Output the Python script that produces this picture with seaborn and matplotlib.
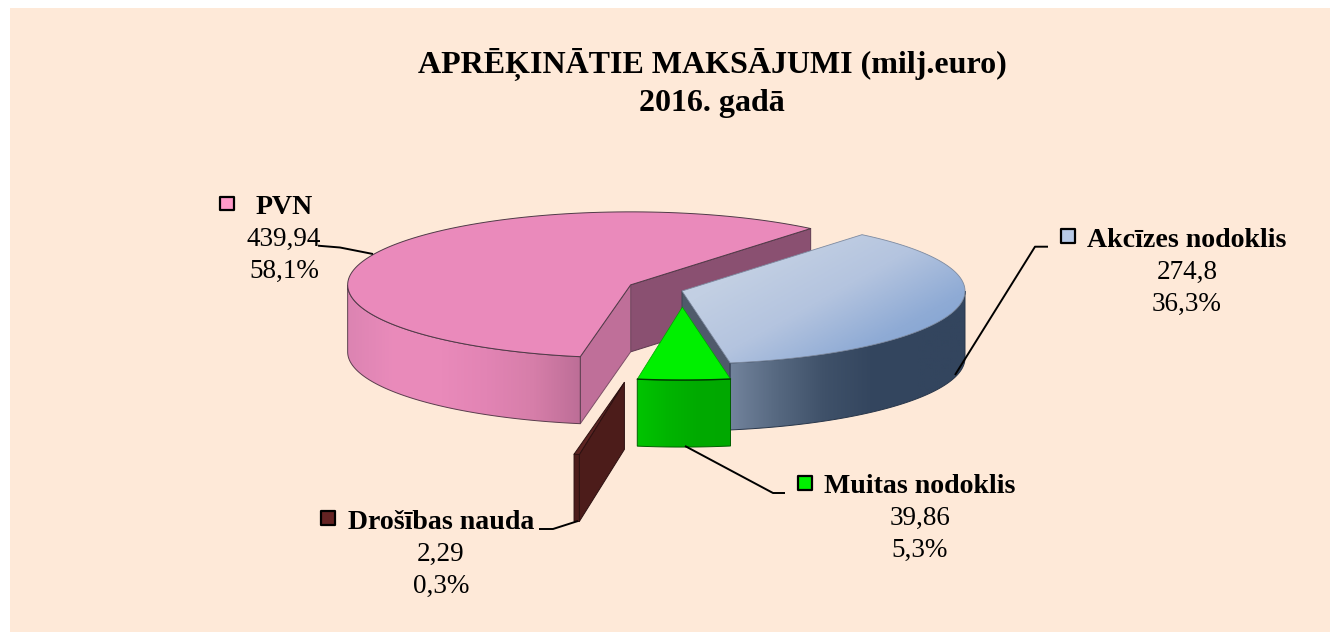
import numpy as np
import matplotlib
matplotlib.use('Agg')
import matplotlib.pyplot as plt
from matplotlib.patches import Polygon
import seaborn as sns

# data, clockwise from the back of the pie
names = ['Akcīzes nodoklis', 'Muitas nodoklis', 'Drošības nauda', 'PVN']
values = [274.8, 39.86, 2.29, 439.94]
value_labels = ['274,8', '39,86', '2,29', '439,94']
pct_labels = ['36,3%', '5,3%', '0,3%', '58,1%']
explode = [0.0, 0.22, 1.27, 0.2]

title_lines = ['APRĒĶINĀTIE MAKSĀJUMI (milj.euro)', '2016. gadā']

# pie layout, axes are in image pixels
cx, cy = 682, 291
rx, ry = 283, 73
depth = 67
start_angle = 50.5

sns.set_theme(style='white')
plt.rcParams['font.family'] = ['Liberation Serif', 'DejaVu Serif']

bg = '#fee9d8'
fig = plt.figure(figsize=(13.3, 6.33), dpi=100, facecolor='white')
ax = fig.add_axes([10 / 1330, 1 / 633, 1320 / 1330, 624 / 633])
ax.set_facecolor(bg)

z = [1]


def zo():
    z[0] += 1
    return z[0]


def grad(colors):
    return sns.blend_palette(colors, n_colors=256, as_cmap=True)


def fill_grad(poly, cmap, diag=False):
    # gradient image clipped to a polygon
    poly = np.array(poly)
    x0, x1 = poly[:, 0].min(), poly[:, 0].max()
    y0, y1 = poly[:, 1].min(), poly[:, 1].max()
    gx, gy = np.meshgrid(np.linspace(0, 1, 200), np.linspace(0, 1, 100))
    g = (0.55 * gx + 0.45 * gy) if diag else gx
    im = ax.imshow(g, extent=(x0, x1, y1, y0), cmap=cmap, aspect='auto', vmin=0, vmax=1,
                   interpolation='bilinear', zorder=zo())
    im.set_clip_path(Polygon(poly, closed=True, transform=ax.transData))


def rim(c, a0, a1):
    t = np.radians(np.linspace(a0, a1, 120))
    return np.column_stack([c[0] + rx * np.cos(t), c[1] - ry * np.sin(t)])


def draw(poly, color, edge, lw=0.7):
    ax.add_patch(Polygon(poly, closed=True, facecolor=color, edgecolor=edge, lw=lw,
                         joinstyle='round', zorder=zo()))


def outline(poly, edge, lw=0.7):
    ax.add_patch(Polygon(poly, closed=True, fill=False, edgecolor=edge, lw=lw, zorder=zo()))


def side_wall(c, a):
    p = rim(c, a, a)[0]
    return [c, p, (p[0], p[1] + depth), (c[0], c[1] + depth)]


def outer_wall(c, a0, a1):
    top = rim(c, a0, a1)
    return np.vstack([top, (top + [0, depth])[::-1]])


# angles and centres from the values
sweep = np.array(values) / sum(values) * 360
ends = start_angle - np.cumsum(sweep)
starts = ends + sweep
mids = (starts + ends) / 2
centres = []
for m, e in zip(mids, explode):
    centres.append((cx + rx * e * np.cos(np.radians(m)), cy - ry * e * np.sin(np.radians(m))))
centres[2] = (centres[2][0] + 3, centres[2][1])

blue_c, green_c, brown_c, pink_c = centres

# PVN
draw(side_wall(pink_c, ends[3]), '#8a5071', '#5e3a50')
draw(side_wall(pink_c, starts[3]), '#bf6f99', '#7d4f68')
wall = outer_wall(pink_c, starts[3], -180)
fill_grad(wall, grad(['#dc84b2', '#ea8bbb', '#e98aba', '#e284b4', '#d67ea9', '#bd6e97']))
outline(wall, '#5a3c4d')
draw(np.vstack([[pink_c], rim(pink_c, starts[3], ends[3])]), '#ea8abb', '#4f3a47')

# akcizes nodoklis
draw(side_wall(blue_c, ends[0]), '#4f5a6b', '#3d4654')
wall = outer_wall(blue_c, ends[0], 0)
fill_grad(wall, grad(['#72839c', '#566880', '#3f5169', '#34465f', '#33455e', '#33455e']))
outline(wall, '#28364a')
top = np.vstack([[blue_c], rim(blue_c, starts[0], ends[0])])
fill_grad(top, grad(['#c9d5e7', '#c2cfe3', '#b4c4df', '#8fabd5', '#7a9fd0']), diag=True)
outline(top, '#7d8aa0', lw=0.6)

# muitas nodoklis
wall = outer_wall(green_c, starts[1], ends[1])
fill_grad(wall, grad(['#00c400', '#00b400', '#00aa00', '#00a800']))
outline(wall, '#006000')
draw(np.vstack([[green_c], rim(green_c, starts[1], ends[1])]), '#00f000', '#00a000', lw=0.5)
ax.plot(*rim(green_c, starts[1], ends[1]).T, color='#003800', lw=1, zorder=zo())

# drosibas nauda
draw(side_wall(brown_c, starts[2]), '#4c1c1a', '#2c1010')
draw(outer_wall(brown_c, starts[2], ends[2]), '#4c1c1a', '#2c1010')
draw(np.vstack([[brown_c], rim(brown_c, starts[2], ends[2])]), '#5c2422', '#2c1010')

# leader lines
leaders = [
    ([1048, 1035, 955], [246.7, 246.7, 375]),
    ([785, 773, 685], [493, 493, 446]),
    ([539, 553, 578], [529, 529, 521]),
    ([318, 340, 373], [245.7, 247.5, 254]),
]
for lx, ly in leaders:
    ax.plot(lx, ly, color='black', lw=1.4, zorder=zo(), solid_capstyle='butt')

# labels
fs_bold = 20.1
fs = 19.5
label_pos = [(1187, 247), (920, 493), (441, 529), (284, 214)]
for i in range(len(names)):
    x, y = label_pos[i]
    ax.text(x, y, names[i], fontsize=fs_bold, fontweight='bold', ha='center', va='baseline',
            color='black', zorder=zo())
    ax.text(x, y + 32, value_labels[i], fontsize=fs, ha='center', va='baseline', color='black', zorder=zo())
    ax.text(x, y + 64, pct_labels[i], fontsize=fs, ha='center', va='baseline', color='black', zorder=zo())

# legend keys
key_colors = ['#b9cbe8', '#00f000', '#642323', '#ff9ac9']
key_pos = [(1068, 236), (805, 483), (328, 518), (227, 203.5)]
ax.scatter([k[0] for k in key_pos], [k[1] for k in key_pos], marker='s', s=100, c=key_colors,
           edgecolors='black', linewidths=1.6, zorder=zo())

ax.text(712, 73, title_lines[0], fontsize=23, fontweight='bold', ha='center', va='baseline',
        color='black', zorder=zo())
ax.text(712, 111, title_lines[1], fontsize=23, fontweight='bold', ha='center', va='baseline',
        color='black', zorder=zo())

ax.set_xlim(10, 1330)
ax.set_ylim(632, 8)
ax.set_xticks([])
ax.set_yticks([])
for s in ax.spines.values():
    s.set_visible(False)

fig.savefig('out.png', dpi=100)
